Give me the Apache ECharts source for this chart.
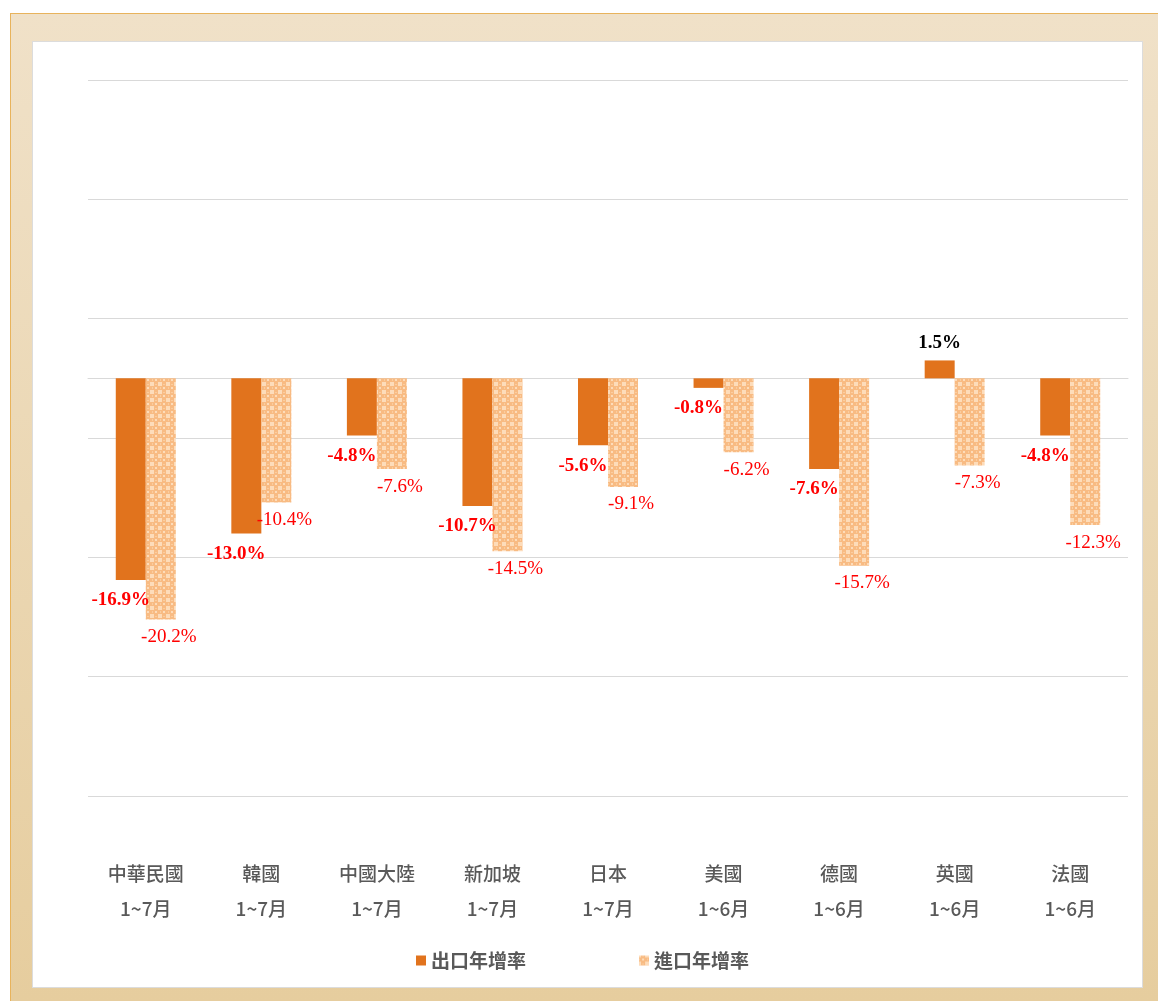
<!DOCTYPE html>
<html>
<head>
<meta charset="utf-8">
<script src="https://cdn.jsdelivr.net/npm/echarts@6/dist/echarts.min.js"></script>
<style>
  html, body { margin: 0; padding: 0; background: #fff; }
  #frame {
    position: absolute; left: 10px; top: 13px; width: 1148px; height: 988px;
    box-sizing: border-box;
    border-left: 1px solid #e8b35c; border-top: 1px solid #e8b35c;
    background: linear-gradient(to bottom, #f0e1c8, #e6cd9e);
  }
  #inner {
    position: absolute; left: 32px; top: 41px; width: 1111px; height: 947px;
    box-sizing: border-box; background: #fff; border: 1px solid #dcdcdc;
  }
  #main { position: absolute; left: 0; top: 0; width: 1158px; height: 1001px; }
</style>
</head>
<body>
<div id="frame"></div>
<div id="inner"></div>
<div id="main"></div>
<script>
// 資料
var categories = ['中華民國\n1~7月', '韓國\n1~7月', '中國大陸\n1~7月', '新加坡\n1~7月', '日本\n1~7月',
                  '美國\n1~6月', '德國\n1~6月', '英國\n1~6月', '法國\n1~6月'];
var exportGrowth = [-16.9, -13.0, -4.8, -10.7, -5.6, -0.8, -7.6, 1.5, -4.8];
var importGrowth = [-20.2, -10.4, -7.6, -14.5, -9.1, -6.2, -15.7, -7.3, -12.3];
var seriesNames = ['出口年增率', '進口年增率'];

// 進口的網點花紋
function makePattern() {
    var c = document.createElement('canvas');
    c.width = 8; c.height = 8;
    var ctx = c.getContext('2d');
    ctx.fillStyle = '#fddcba';
    ctx.fillRect(0, 0, 8, 8);
    ctx.fillStyle = '#f8bb83';
    ctx.fillRect(0, 2, 8, 4);
    ctx.fillRect(2, 0, 4, 8);
    ctx.fillStyle = '#fddcba';
    ctx.fillRect(3, 3, 2, 2);
    ctx.fillStyle = '#fbcd9f';
    ctx.fillRect(0, 3, 1, 2);
    ctx.fillRect(3, 0, 2, 1);
    return c;
}
var pattern = { image: makePattern(), repeat: 'repeat' };

var myChart = echarts.init(document.getElementById('main'), null, { renderer: 'canvas' });

function pct(p) { return p.value.toFixed(1) + '%'; }

var option = {
    backgroundColor: 'transparent',
    animation: false,
    grid: { left: 88, right: 30, top: 80, bottom: 205, containLabel: false },
    legend: {
        bottom: 26,
        left: 411,
        itemWidth: 10,
        itemHeight: 10,
        itemGap: 113,
        icon: 'rect',
        textStyle: { fontFamily: 'Noto Sans CJK TC', fontSize: 19, fontWeight: 'bold', color: '#595959' },
        data: seriesNames
    },
    xAxis: {
        type: 'category',
        data: categories,
        axisLine: { show: true, onZero: true, lineStyle: { color: '#d9d9d9', width: 1 } },
        axisTick: { show: false },
        axisLabel: {
            margin: 60,
            fontFamily: 'Noto Sans CJK TC',
            fontSize: 19,
            fontWeight: 500,
            color: '#595959',
            lineHeight: 35
        }
    },
    yAxis: {
        type: 'value',
        min: -35,
        max: 25,
        interval: 10,
        axisLabel: { show: false },
        axisLine: { show: false },
        axisTick: { show: false },
        splitLine: { lineStyle: { color: '#d9d9d9', width: 1 } }
    },
    series: [{
        name: seriesNames[0],
        type: 'bar',
        barWidth: 30,
        barGap: '0%',
        itemStyle: { color: '#e1731d' },
        label: {
            show: true,
            position: 'bottom',
            distance: 4,
            offset: [-10, 7],
            formatter: pct,
            fontFamily: 'Liberation Serif',
            fontSize: 19,
            fontWeight: 'bold',
            color: '#ff0000'
        },
        data: exportGrowth.map(function (v) {
            if (v >= 0) {
                return { value: v, label: { position: 'top', offset: [0, -4], color: '#000' } };
            }
            return v;
        })
    }, {
        name: seriesNames[1],
        type: 'bar',
        barWidth: 30,
        barGap: '0%',
        itemStyle: { color: pattern },
        label: {
            show: true,
            position: 'bottom',
            distance: 4,
            offset: [8, 4],
            formatter: pct,
            fontFamily: 'Liberation Serif',
            fontSize: 19,
            color: '#ff0000'
        },
        data: importGrowth
    }]
};

myChart.setOption(option);
window.onresize = myChart.resize;
</script>
</body>
</html>
